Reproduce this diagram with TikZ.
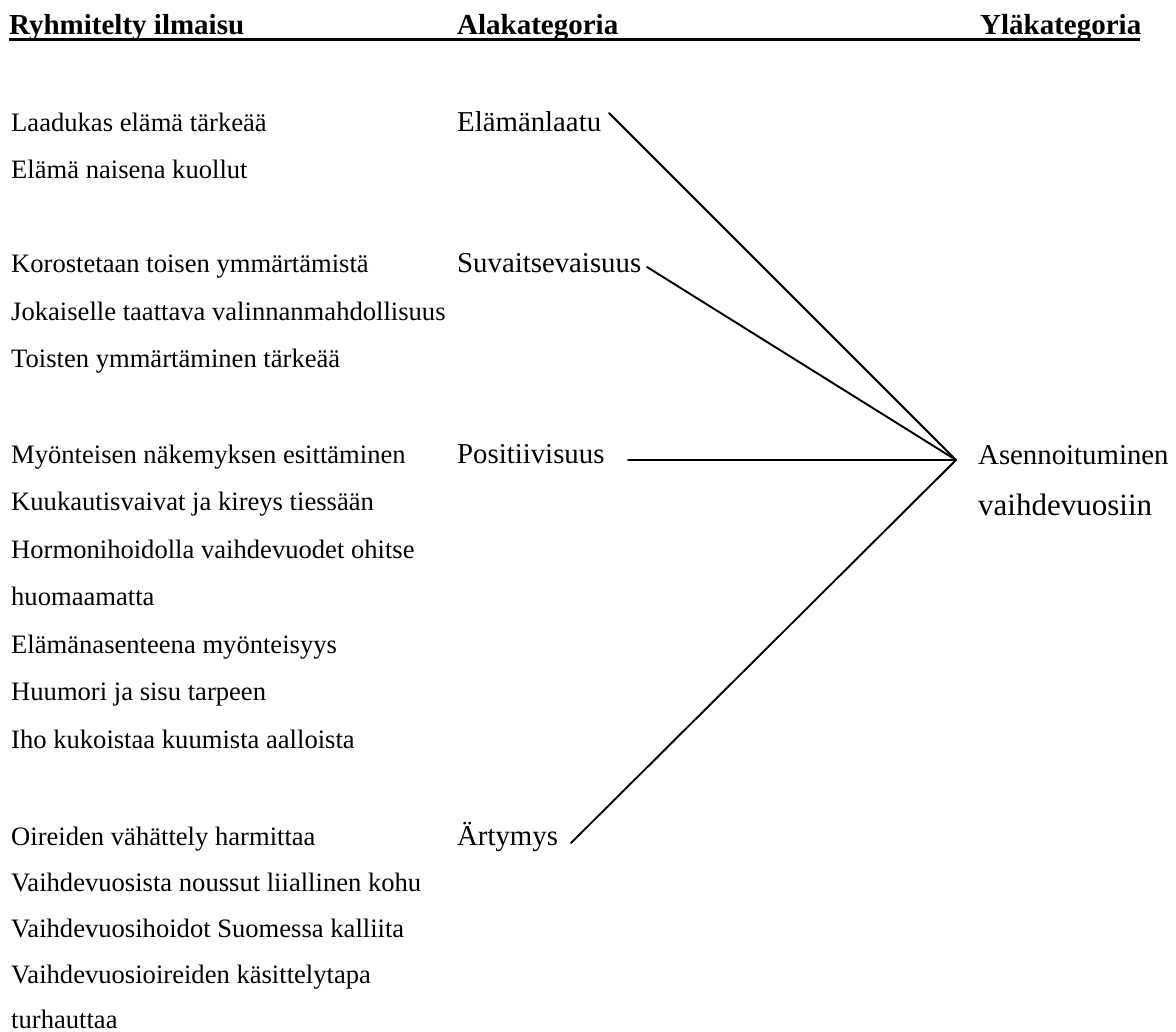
\documentclass[tikz,border=0pt]{standalone}
\usepackage{fontspec}
\setmainfont{Liberation Serif}
\begin{document}
\begin{tikzpicture}[x=1pt,y=-1pt,
  txt/.style={inner sep=0pt,anchor=base west,font=\fontsize{26.6pt}{30pt}\selectfont},
  cat/.style={inner sep=0pt,anchor=base west,font=\fontsize{28.8pt}{32pt}\selectfont},
  head/.style={inner sep=0pt,anchor=base west,font=\fontsize{29pt}{32pt}\selectfont\bfseries},
  conn/.style={line width=1.9pt,line cap=round}]
\useasboundingbox[fill=white] (0,0) rectangle (1176,1032);
% header
\node[head] (h1) at (9,35) {Ryhmitelty ilmaisu};
\node[head] (h2) at (457,35) {Alakategoria};
\node[head] (h3) at (980,35) {Yläkategoria};
\coordinate (ul1) at (9,39.5);
\coordinate (ul2) at (1140,39.5);
\draw[line width=2.7pt] (ul1) -- (ul2);
% left column
\node[txt] (a1) at (11,132) {Laadukas elämä tärkeää};
\node[txt] (a2) at (11,179) {Elämä naisena kuollut};
\node[txt] (b1) at (11,273) {Korostetaan toisen ymmärtämistä};
\node[txt] (b2) at (11,321) {Jokaiselle taattava valinnanmahdollisuus};
\node[txt] (b3) at (11,368) {Toisten ymmärtäminen tärkeää};
\node[txt] (c1) at (11,463) {Myönteisen näkemyksen esittäminen};
\node[txt] (c2) at (11,510.5) {Kuukautisvaivat ja kireys tiessään};
\node[txt] (c3) at (11,558) {Hormonihoidolla vaihdevuodet ohitse};
\node[txt] (c4) at (11,605.5) {huomaamatta};
\node[txt] (c5) at (11,653) {Elämänasenteena myönteisyys};
\node[txt] (c6) at (11,700.5) {Huumori ja sisu tarpeen};
\node[txt] (c7) at (11,748) {Iho kukoistaa kuumista aalloista};
\node[txt] (d1) at (11,845) {Oireiden vähättely harmittaa};
\node[txt] (d2) at (11,891) {Vaihdevuosista noussut liiallinen kohu};
\node[txt] (d3) at (11,937) {Vaihdevuosihoidot Suomessa kalliita};
\node[txt] (d4) at (11,983) {Vaihdevuosioireiden käsittelytapa};
\node[txt] (d5) at (11,1028) {turhauttaa};
% middle column
\node[cat] (ela) at (457,132) {Elämänlaatu};
\node[cat] (suv) at (457,273) {Suvaitsevaisuus};
\node[cat] (pos) at (457,463) {Positiivisuus};
\node[cat] (art) at (457,845) {Ärtymys};
% right column
\node[cat] (yl1) at (978,464) {Asennoituminen};
\node[inner sep=0pt,anchor=base west,font=\fontsize{31pt}{34pt}\selectfont] (yl2) at (978,515) {vaihdevuosiin};
% connectors
\coordinate (hub) at (956,460);
\coordinate (s1) at (609,113);
\coordinate (s2) at (647,267);
\coordinate (s3) at (628,460);
\coordinate (s4) at (571,843);
\draw[conn] (s1) -- (hub);
\draw[conn] (s2) -- (hub);
\draw[conn] (s3) -- (hub);
\draw[conn] (s4) -- (hub);
\end{tikzpicture}
\end{document}
